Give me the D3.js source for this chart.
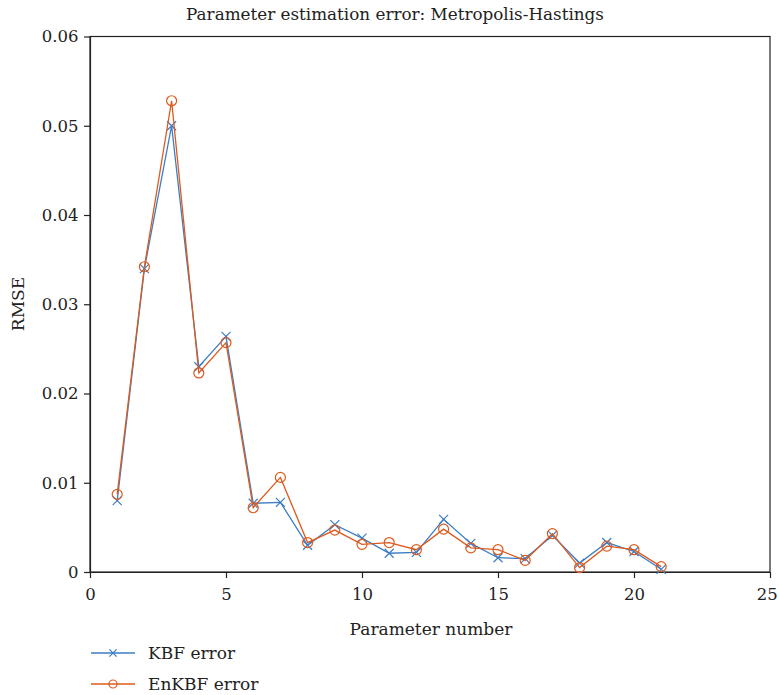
<!DOCTYPE html>
<html><head><meta charset="utf-8">
<script src="https://cdn.jsdelivr.net/npm/d3@7"></script>
<style>body{margin:0;background:#fff;}</style>
</head><body><svg id="c" width="779" height="695"></svg>
<script>
const params = [1,2,3,4,5,6,7,8,9,10,11,12,13,14,15,16,17,18,19,20,21];
const kbf = [0.0080,0.0340,0.0500,0.0230,0.0264,0.0077,0.0078,0.0030,0.0053,0.0038,0.0021,0.0022,0.0059,0.0032,0.0016,0.0015,0.0041,0.0010,0.0033,0.0023,0.0003];
const enkbf = [0.0087,0.0342,0.0528,0.0223,0.0257,0.0072,0.0106,0.0033,0.0047,0.0031,0.0033,0.0025,0.0048,0.0027,0.0025,0.0013,0.0043,0.0005,0.0029,0.0025,0.0006];
const xTicks = [0,5,10,15,20,25];
const yTicks = [0,0.01,0.02,0.03,0.04,0.05,0.06];
const seriesNames = ["KBF error","EnKBF error"];

const FONT = "'DejaVu Serif', serif";
const svg = d3.select("#c");
const L=90,R=770,T=36.5,B=572;
const x = d3.scaleLinear().domain([0,25]).range([L,R]);
const y = d3.scaleLinear().domain([0,0.06]).range([B,T]);
const blue="#3b7dc4", orange="#de5a1c";

svg.append("rect").attr("x",L).attr("y",T).attr("width",R-L).attr("height",B-T).attr("fill","none").attr("stroke","#222").attr("stroke-width",1.2);

const xa = svg.append("g").attr("transform",`translate(0,${B})`)
  .call(d3.axisBottom(x).tickValues(xTicks).tickFormat(d3.format("d")).tickSize(6).tickSizeOuter(0));
const ya = svg.append("g").attr("transform",`translate(${L},0)`)
  .call(d3.axisLeft(y).tickValues(yTicks).tickFormat(d=>d===0?"0":d3.format(".2f")(d)).tickSize(6).tickSizeOuter(0));
[xa,ya].forEach(a=>{a.attr("font-family",null);
  a.select(".domain").attr("stroke","#222").attr("stroke-width",1.2);
  a.selectAll(".tick line").attr("stroke","#222").attr("stroke-width",1.2);
  a.selectAll("text").style("font-family",FONT).style("font-size","16.5px").attr("fill","#222");});
xa.selectAll("text").attr("dy","1.15em").attr("dx",d=>d===25?"-0.2em":null);
ya.selectAll("text").attr("dx","-0.15em");

function txt(xp,yp,s,size,anchor){
  return svg.append("text").attr("x",xp).attr("y",yp).attr("text-anchor",anchor||"middle")
    .style("font-family",FONT).style("font-size",size+"px").attr("fill","#222").text(s);
}
txt(395,20,"Parameter estimation error: Metropolis-Hastings",16.8);
txt(431,635,"Parameter number",17);
txt(0,0,"RMSE",17).attr("transform","translate(24,304) rotate(-90)");

const line = d3.line().x(d=>x(d[0])).y(d=>y(d[1]));
function drawMarker(g,cx,cy,color,marker,s){
  if(marker==="x"){
    const r=4.5*s;
    g.append("path").attr("d",`M${cx-r},${cy-r}L${cx+r},${cy+r}M${cx-r},${cy+r}L${cx+r},${cy-r}`).attr("stroke",color).attr("stroke-width",1.2).attr("fill","none");
  } else {
    g.append("circle").attr("cx",cx).attr("cy",cy).attr("r",5*s).attr("fill","none").attr("stroke",color).attr("stroke-width",1.2);
  }
}
function drawSeries(vals,color,marker){
  const pts = params.map((p,i)=>[p,vals[i]]);
  svg.append("path").datum(pts).attr("d",line).attr("fill","none").attr("stroke",color).attr("stroke-width",1.3);
  const g = svg.append("g");
  pts.forEach(d=>drawMarker(g,x(d[0]),y(d[1]),color,marker,1));
}
drawSeries(kbf,blue,"x");
drawSeries(enkbf,orange,"o");

[[blue,"x",653],[orange,"o",684]].forEach((d,i)=>{
  svg.append("line").attr("x1",91).attr("x2",135).attr("y1",d[2]).attr("y2",d[2]).attr("stroke",d[0]).attr("stroke-width",1.3);
  drawMarker(svg,113,d[2],d[0],d[1],0.8);
  txt(148,d[2]+6,seriesNames[i],17,"start");
});
</script></body></html>
